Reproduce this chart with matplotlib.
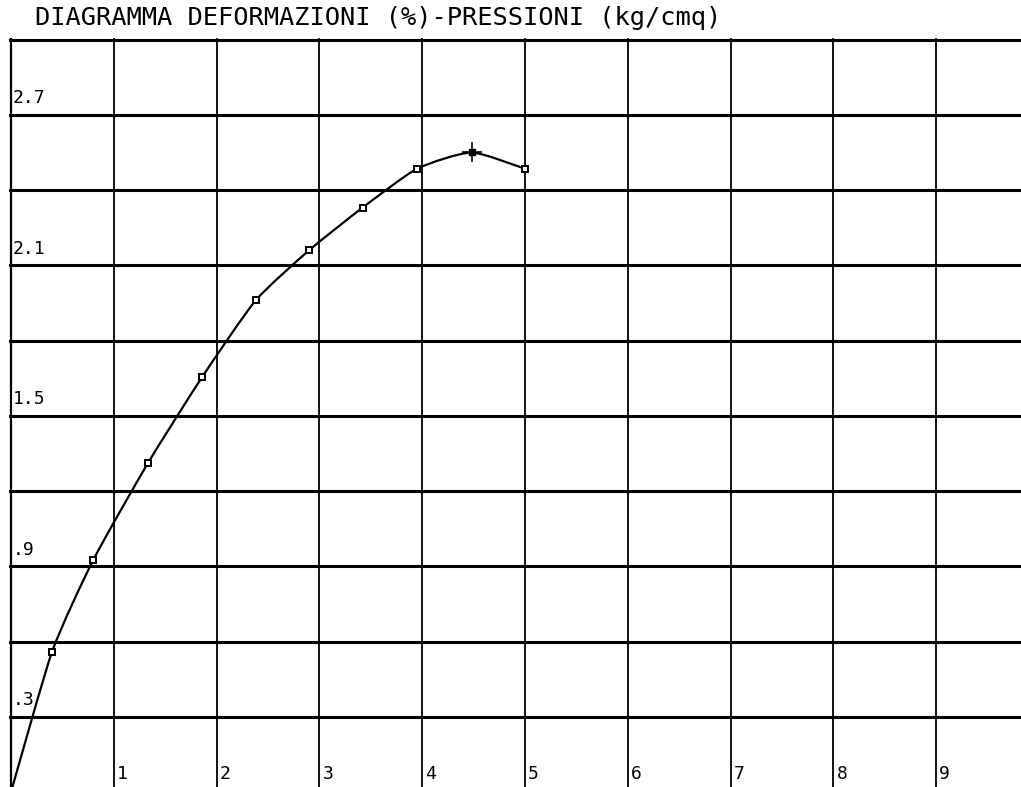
import matplotlib
matplotlib.use("Agg")
import matplotlib.pyplot as plt
from matplotlib.path import Path
from matplotlib.patches import PathPatch
import numpy as np

deformazioni = [0, 0.40, 0.80, 1.33, 1.86, 2.38, 2.90, 3.42, 3.95, 4.48, 5.00]
pressioni = [0, 0.56, 0.925, 1.31, 1.655, 1.96, 2.16, 2.33, 2.485, 2.55, 2.485]
i_max = 9  # punto di rottura

x_ticks = [1, 2, 3, 4, 5, 6, 7, 8, 9]
x_labels = ["1", "2", "3", "4", "5", "6", "7", "8", "9"]
y_grid = [0.3, 0.6, 0.9, 1.2, 1.5, 1.8, 2.1, 2.4, 2.7, 3.0]
y_ticks = [0.3, 0.9, 1.5, 2.1, 2.7]
y_labels = [".3", ".9", "1.5", "2.1", "2.7"]
titolo = "DIAGRAMMA DEFORMAZIONI (%)-PRESSIONI (kg/cmq)"

W, H = 1021, 787
fig = plt.figure(figsize=(W / 100, H / 100), dpi=100)
ax = fig.add_axes([0, 0, 1, 1])
px_x = 102.8   # pixel per unita' x
px_y = 250.8   # pixel per unita' y
x0, y0 = 11, 792
ax.set_xlim(-x0 / px_x, (W - x0) / px_x)
ax.set_ylim((y0 - H) / px_y, y0 / px_y)
ax.axis("off")

# griglia
top = (H - 39) / H
for yv in y_grid:
    ax.axhline(yv, color="black", lw=2.2, xmin=x0 / W - 0.001)
for xv in x_ticks:
    ax.axvline(xv, color="black", lw=1.3, ymax=top)
ax.axvline(0, color="black", lw=1.6, ymax=top)

# etichette
mono = "DejaVu Sans Mono"
for xv, lab in zip(x_ticks, x_labels):
    ax.text(xv + 0.03, 0.035, lab, fontsize=13, family=mono, ha="left", va="bottom")
for yv, lab in zip(y_ticks, y_labels):
    ax.text(0.02, yv + 0.03, lab, fontsize=13, family=mono, ha="left", va="bottom")
fig.text(35 / W, 1 - 18 / H, titolo, fontsize=18.3, family=mono, ha="left", va="center")

# curva liscia (Catmull-Rom -> Bezier, tensione ridotta)
P = np.column_stack([deformazioni, pressioni])
verts = [P[0]]
codes = [Path.MOVETO]
n = len(P)
k = 1 / 10
for i in range(n - 1):
    p_prev = P[i - 1] if i > 0 else P[i]
    p_next2 = P[i + 2] if i + 2 < n else P[i + 1]
    c1 = P[i] + (P[i + 1] - p_prev) * k
    c2 = P[i + 1] - (p_next2 - P[i]) * k
    verts += [c1, c2, P[i + 1]]
    codes += [Path.CURVE4] * 3
ax.add_patch(PathPatch(Path(verts, codes), fill=False, lw=1.6, color="black"))

# marcatori
xs = [x for j, x in enumerate(deformazioni) if j > 0 and j != i_max]
ys = [y for j, y in enumerate(pressioni) if j > 0 and j != i_max]
ax.plot(xs, ys, ls="none", marker="s", ms=5, mfc="white", mec="black", mew=1.4)
ax.plot(deformazioni[i_max], pressioni[i_max], marker="s", ms=5, color="black")
ax.plot(deformazioni[i_max], pressioni[i_max], marker="+", ms=14, mew=1.2, color="black")

fig.savefig("out.png", dpi=100)
